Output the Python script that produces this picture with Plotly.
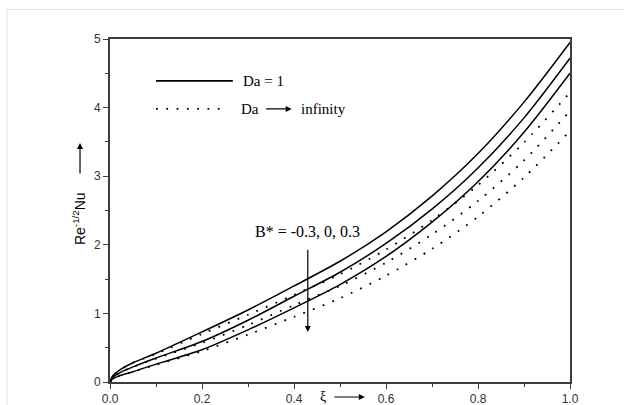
import plotly.graph_objects as go

# xi values
xi = [0.0, 0.005, 0.01, 0.02, 0.05, 0.1, 0.2, 0.3, 0.4, 0.5, 0.6, 0.7, 0.8, 0.9, 1.0]

# Da = 1 (solid), B* = -0.3, 0, 0.3
da1_bm03 = [0.0, 0.08, 0.115, 0.17, 0.28, 0.42, 0.73, 1.05, 1.40, 1.76, 2.19, 2.71, 3.33, 4.08, 4.95]
da1_b0 = [0.0, 0.06, 0.09, 0.13, 0.22, 0.35, 0.59, 0.90, 1.25, 1.60, 2.02, 2.52, 3.12, 3.85, 4.72]
da1_bp03 = [0.0, 0.04, 0.06, 0.09, 0.15, 0.26, 0.47, 0.76, 1.08, 1.42, 1.83, 2.33, 2.92, 3.64, 4.50]

# Da -> infinity (dotted)
dainf_bm03 = [0.0, 0.08, 0.115, 0.17, 0.28, 0.41, 0.70, 0.98, 1.27, 1.57, 1.93, 2.36, 2.87, 3.49, 4.22]
dainf_b0 = [0.0, 0.06, 0.09, 0.13, 0.22, 0.34, 0.57, 0.83, 1.12, 1.40, 1.74, 2.15, 2.64, 3.23, 3.95]
dainf_bp03 = [0.0, 0.04, 0.06, 0.09, 0.15, 0.25, 0.45, 0.69, 0.95, 1.22, 1.55, 1.94, 2.41, 2.98, 3.66]

x_ticks = [0.0, 0.2, 0.4, 0.6, 0.8, 1.0]
y_ticks = [0, 1, 2, 3, 4, 5]

DOT = "1.8px,8.5px"
fig = go.Figure()
for ys in (da1_bm03, da1_b0, da1_bp03):
    fig.add_trace(go.Scatter(x=xi, y=ys, mode="lines",
                             line=dict(color="black", width=1.5, shape="spline", smoothing=0.8),
                             showlegend=False, hoverinfo="skip"))
for ys in (dainf_bm03, dainf_b0, dainf_bp03):
    fig.add_trace(go.Scatter(x=xi, y=ys, mode="lines",
                             line=dict(color="black", width=1.8, dash=DOT, shape="spline", smoothing=0.8),
                             showlegend=False, hoverinfo="skip"))

axis_common = dict(showgrid=False, zeroline=False, showline=True, linecolor="#3c3c3c", linewidth=1.6,
                   mirror=True, ticks="outside", ticklen=5, tickwidth=1.3, tickcolor="#3c3c3c",
                   automargin=False,
                   tickfont=dict(family="Liberation Sans, Arial", size=12, color="#333333"))

fig.update_xaxes(range=[0, 1], tickvals=x_ticks, ticktext=[f"{v:.1f}" for v in x_ticks],
                 minor=dict(dtick=0.1, ticks="outside", ticklen=3, tickwidth=1.2, tickcolor="#3c3c3c"),
                 **axis_common)
fig.update_yaxes(range=[0, 5], tickvals=y_ticks, ticktext=[str(v) for v in y_ticks],
                 minor=dict(dtick=0.5, ticks="outside", ticklen=3, tickwidth=1.2, tickcolor="#3c3c3c"),
                 **axis_common)

serif = "Liberation Serif, Times New Roman"
sans = "Liberation Sans, Arial"
shapes = [
    # outer light frame
    dict(type="rect", xref="paper", yref="paper", x0=-0.2239, x1=1.2, y0=-0.2, y1=1.086,
         line=dict(color="#e2e2e2", width=1), layer="below"),
    # legend samples
    dict(type="line", xref="x", yref="y", x0=0.1, x1=0.267, y0=4.39, y1=4.39,
         line=dict(color="black", width=1.6)),
    dict(type="line", xref="x", yref="y", x0=0.1, x1=0.252, y0=3.98, y1=3.98,
         line=dict(color="black", width=1.8, dash=DOT)),
]

annotations = [
    dict(text="Da = 1", x=0.285, y=4.39, xref="x", yref="y", xanchor="left", yanchor="middle",
         showarrow=False, font=dict(family=serif, size=15, color="black")),
    dict(text="Da", x=0.281, y=3.98, xref="x", yref="y", xanchor="left", yanchor="middle",
         showarrow=False, font=dict(family=serif, size=15, color="black")),
    dict(text="", x=0.395, y=3.98, xref="x", yref="y", ax=-27, ay=0, showarrow=True,
         arrowhead=2, arrowsize=1, arrowwidth=1.2, arrowcolor="black"),
    dict(text="infinity", x=0.41, y=3.98, xref="x", yref="y", xanchor="left", yanchor="middle",
         showarrow=False, font=dict(family=serif, size=15, color="black")),
    dict(text="B* = -0.3, 0, 0.3", x=0.43, y=2.20, xref="x", yref="y", xanchor="center", yanchor="middle",
         showarrow=False, font=dict(family=serif, size=16, color="black")),
    dict(text="", x=0.43, y=0.73, xref="x", yref="y", ax=0.43, ay=1.95, axref="x", ayref="y",
         showarrow=True, arrowhead=2, arrowsize=1, arrowwidth=1.2, arrowcolor="black"),
    # y title
    dict(text="Re<sup>-1/2</sup>Nu", x=-0.0674, y=0.478, xref="paper", yref="paper", textangle=-90,
         xanchor="center", yanchor="middle", showarrow=False, font=dict(family=sans, size=14, color="black")),
    dict(text="", x=-0.0652, y=0.6968, xref="paper", yref="paper", ax=0, ay=32, showarrow=True,
         arrowhead=2, arrowsize=1, arrowwidth=1.2, arrowcolor="black"),
    # x title
    dict(text="ξ", x=0.463, y=-0.0437, xref="paper", yref="paper", xanchor="center", yanchor="middle",
         showarrow=False, font=dict(family=serif, size=14, color="black")),
    dict(text="", x=0.554, y=-0.0437, xref="paper", yref="paper", ax=-32, ay=0, showarrow=True,
         arrowhead=2, arrowsize=1, arrowwidth=1.2, arrowcolor="black"),
]

fig.update_layout(width=624, height=405, margin=dict(l=110, r=54, t=39, b=23),
                  paper_bgcolor="white", plot_bgcolor="white", shapes=shapes, annotations=annotations,
                  showlegend=False)

fig.write_html("out.html")
